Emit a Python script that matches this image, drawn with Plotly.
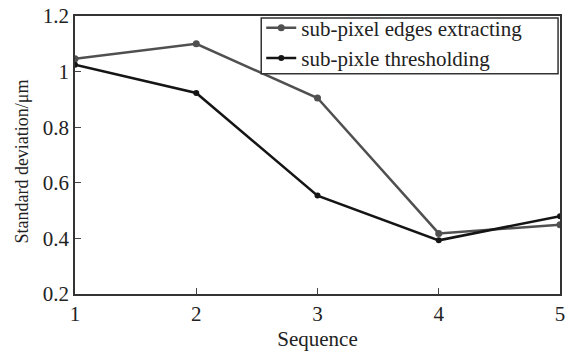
import plotly.graph_objects as go

sequence = [1, 2, 3, 4, 5]
edges_extracting = [1.046, 1.10, 0.905, 0.418, 0.449]
pixle_thresholding = [1.025, 0.923, 0.554, 0.393, 0.48]
names = ["sub-pixel edges extracting", "sub-pixle thresholding"]
y_ticks = [0.2, 0.4, 0.6, 0.8, 1.0, 1.2]
y_ticktext = ["0.2", "0.4", "0.6", "0.8", "1", "1.2"]

fig = go.Figure()
fig.add_trace(go.Scatter(x=sequence, y=edges_extracting, mode="lines+markers", name=names[0],
                         line=dict(color="#505050", width=2.5), marker=dict(size=7, color="#505050")))
fig.add_trace(go.Scatter(x=sequence, y=pixle_thresholding, mode="lines+markers", name=names[1],
                         line=dict(color="#151515", width=2.5), marker=dict(size=6, color="#151515")))

font = "Liberation Serif, Times New Roman, serif"
fig.update_layout(
    width=569, height=351,
    margin=dict(l=75, r=4, t=13, b=54),
    paper_bgcolor="white", plot_bgcolor="white",
    font=dict(family=font, size=21, color="#222222"),
    showlegend=True,
    legend=dict(x=0.384, y=1.03, xanchor="left", yanchor="top",
                borderwidth=0, bgcolor="rgba(0,0,0,0)",
                font=dict(family=font, size=21, color="#222222"),
                tracegroupgap=0, itemwidth=30),
    shapes=[dict(type="rect", xref="paper", yref="paper", x0=0.384, x1=0.996, y0=0.792, y1=0.993,
                 line=dict(color="#333333", width=1.5), fillcolor="white", layer="above")],
    annotations=[dict(text="Standard deviation/μm", xref="paper", yref="paper",
                      x=-0.110, y=0.475, textangle=-90, showarrow=False,
                      xanchor="center", yanchor="middle",
                      font=dict(family=font, size=18, color="#222222"))],
)
fig.update_xaxes(range=[1, 5], tickvals=sequence, ticks="inside", ticklen=6,
                 showline=True, linecolor="#333333", linewidth=1.5, mirror=True,
                 showgrid=False, zeroline=False,
                 tickfont=dict(size=21),
                 title=dict(text="Sequence", font=dict(size=21), standoff=6))
fig.update_yaxes(range=[0.2, 1.2], tickvals=y_ticks, ticktext=y_ticktext,
                 ticks="inside", ticklen=6,
                 showline=True, linecolor="#333333", linewidth=1.5, mirror=True,
                 showgrid=False, zeroline=False,
                 tickfont=dict(size=21))
fig.write_html("out.html")
